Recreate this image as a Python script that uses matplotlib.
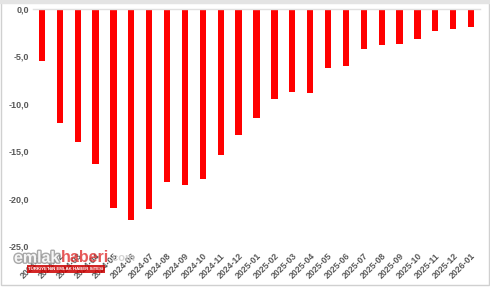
import matplotlib.pyplot as plt
import matplotlib.patheffects as pe
from matplotlib.patches import Rectangle

# monthly values (%)
months = ["2024-01", "2024-02", "2024-03", "2024-04", "2024-05", "2024-06",
          "2024-07", "2024-08", "2024-09", "2024-10", "2024-11", "2024-12",
          "2025-01", "2025-02", "2025-03", "2025-04", "2025-05", "2025-06",
          "2025-07", "2025-08", "2025-09", "2025-10", "2025-11", "2025-12",
          "2026-01"]
values = [-5.5, -12.0, -14.0, -16.3, -21.0, -22.3,
          -21.1, -18.3, -18.6, -17.9, -15.4, -13.3,
          -11.5, -9.5, -8.8, -8.9, -6.2, -6.0,
          -4.2, -3.8, -3.7, -3.2, -2.3, -2.1,
          -1.9]
yticks = [0, -5, -10, -15, -20, -25]

plt.rcParams['font.family'] = ['Liberation Sans', 'DejaVu Sans']

fig = plt.figure(figsize=(4.9, 2.88), dpi=100)
ax = fig.add_axes([33 / 490, 1 - 246 / 288, 447 / 490, 237 / 288])

x = range(len(months))
ax.bar(x, values, width=0.35, color="#ff0000", zorder=2)

ax.set_xlim(-0.5, len(months) - 0.5)
ax.set_ylim(-25, 0)
ax.set_yticks(yticks)
ax.set_yticklabels([f"{v:.1f}".replace(".", ",") for v in yticks],
                   fontsize=6.5, fontweight="bold", color="#595959")
ax.set_xticks(list(x))
ax.set_xticklabels(months, rotation=45, ha="right", rotation_mode="anchor",
                   fontsize=6.3, fontweight="bold", color="#595959")
ax.tick_params(length=0, pad=3)
ax.tick_params(axis="x", pad=4)

for s in ["left", "right", "bottom"]:
    ax.spines[s].set_visible(False)
ax.spines["top"].set_color("#e0e0e0")
ax.spines["top"].set_linewidth(1)

# outer frame
fig.patches.append(Rectangle((0.5 / 490, 3 / 288), 488 / 490, 283 / 288,
                             transform=fig.transFigure, fill=False,
                             edgecolor="#d0d0d0", linewidth=1))
fig.patches.append(Rectangle((0, 1 - 3 / 288), 1, 3 / 288,
                             transform=fig.transFigure, color="#e4e4e4"))

# watermark
wy = 1 - 258 / 288
fig.text(14 / 490, wy, "emlak", fontsize=11.5, fontweight="bold",
         color="white", alpha=0.9, va="center",
         path_effects=[pe.withStroke(linewidth=2, foreground="#a0a0a0")])
fig.text(61 / 490, wy, "haberi", fontsize=11.5, fontweight="bold",
         color="#e03030", alpha=0.8, va="center")
fig.text(109 / 490, wy, ".com", fontsize=8, fontweight="bold",
         color="#c8c8c8", alpha=0.8, va="center")
fig.text(66 / 490, 1 - 269 / 288, "TÜRKİYE'NİN EMLAK HABER SİTESİ", fontsize=3.2,
         fontweight="bold", color="white", ha="center", va="center",
         bbox=dict(boxstyle="square,pad=0.4", fc="#cc0000", ec="none", alpha=0.85))

fig.savefig("out.png", dpi=100)
